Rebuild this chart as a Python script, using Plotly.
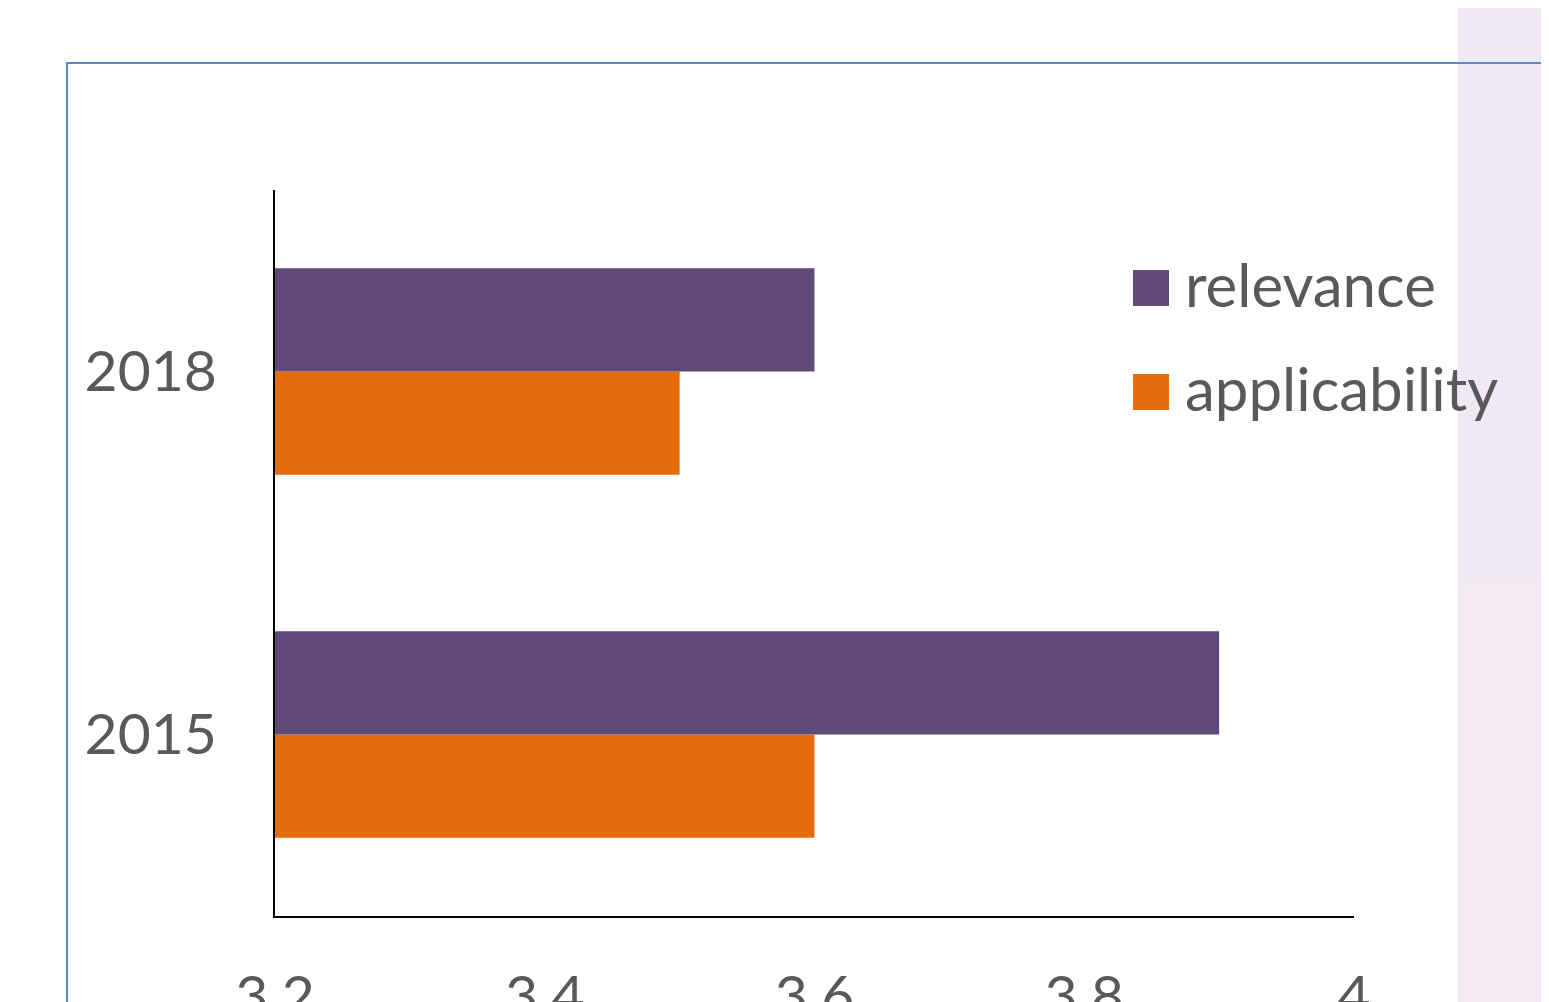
import plotly.graph_objects as go

# ---- data ----
years = ["2015", "2018"]
series_names = ["relevance", "applicability"]
relevance = [3.9, 3.6]
applicability = [3.6, 3.5]
x_tickvals = [3.2, 3.4, 3.6, 3.8, 4.0]
x_ticktext = ["3.2", "3.4", "3.6", "3.8", "4"]

colors = {"relevance": "#604A7B", "applicability": "#E46C0A"}
values = {"relevance": relevance, "applicability": applicability}

OFF = 8  # page body margin
W, H = 1549 - OFF, 1002 - OFF
L, T = 275 - OFF, 190 - OFF
pw, ph = 1354 - 275, 916 - 190
R, B = W - L - pw, H - T - ph

def px(x):
    return (x - OFF - L) / pw

def py(y):
    return (T + ph - (y - OFF)) / ph

FONT = "Lato, Carlito, Calibri, 'Noto Sans', sans-serif"
TXT = "#595959"

fig = go.Figure()
# applicability first so it sits below relevance within each group
for name in ["applicability", "relevance"]:
    fig.add_trace(go.Bar(
        y=years, x=values[name], name=name, orientation="h",
        marker=dict(color=colors[name], line=dict(width=0)),
        showlegend=False,
    ))

shapes = [
    # pale strip on the right
    dict(type="rect", xref="paper", yref="paper", x0=px(1458), x1=1.4, y0=py(580), y1=1.4,
         fillcolor="#F0E9F3", line=dict(width=0), layer="below"),
    dict(type="rect", xref="paper", yref="paper", x0=px(1458), x1=1.4, y0=-0.3, y1=py(580),
         fillcolor="#F3E9F2", line=dict(width=0), layer="below"),
    # blue frame
    dict(type="rect", xref="paper", yref="paper", x0=px(67), x1=1.4, y0=-0.4, y1=py(63),
         fillcolor="rgba(0,0,0,0)", line=dict(color="#5B88C6", width=2), layer="below"),
]
annotations = []
rows = [(284, 270), (388, 374)]
for name, (cy, top) in zip(series_names, rows):
    shapes.append(dict(type="rect", xref="paper", yref="paper",
                       x0=px(1133), x1=px(1169), y0=py(top + 36), y1=py(top),
                       fillcolor=colors[name], line=dict(width=0)))
    annotations.append(dict(xref="paper", yref="paper", x=px(1183), y=py(cy),
                            xanchor="left", yanchor="middle", text=name, showarrow=False,
                            font=dict(family=FONT, size=60, color=TXT)))

fig.update_layout(
    width=W, height=H,
    margin=dict(l=L, r=R, t=T, b=B, autoexpand=False),
    paper_bgcolor="white", plot_bgcolor="white",
    barmode="group", bargap=0.431, bargroupgap=0,
    shapes=shapes, annotations=annotations,
    showlegend=False,
    font=dict(family=FONT, color=TXT),
)
fig.update_xaxes(
    range=[3.2, 4.0], tickvals=x_tickvals, ticktext=x_ticktext,
    showgrid=False, zeroline=False, showline=True, linecolor="black", linewidth=2,
    ticks="", ticklabelstandoff=30, automargin=False,
    tickfont=dict(family=FONT, size=57, color=TXT),
)
fig.update_yaxes(
    type="category", range=[-0.5, 1.5],
    showgrid=False, zeroline=False, showline=True, linecolor="black", linewidth=1.5,
    ticks="", ticklabelstandoff=45, automargin=False,
    tickfont=dict(family=FONT, size=57, color=TXT),
)
fig.write_html("out.html")
